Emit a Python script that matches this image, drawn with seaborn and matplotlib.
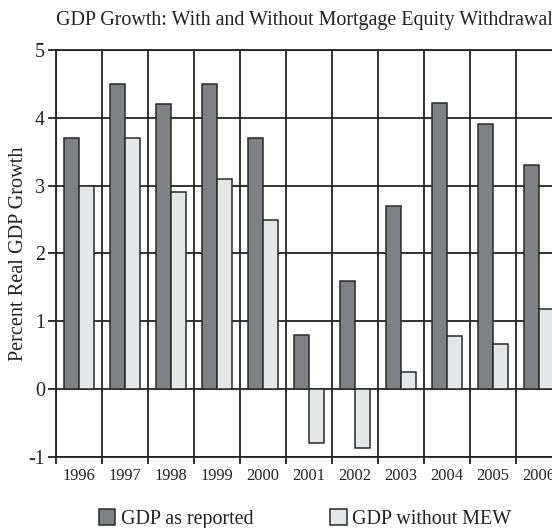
import matplotlib
matplotlib.use("Agg")
import matplotlib.pyplot as plt
import seaborn as sns
import pandas as pd
import numpy as np

years = ["1996", "1997", "1998", "1999", "2000", "2001", "2002", "2003", "2004", "2005", "2006"]
gdp_reported = [3.7, 4.5, 4.2, 4.5, 3.7, 0.8, 1.6, 2.7, 4.22, 3.91, 3.3]
gdp_without_mew = [3.0, 3.7, 2.9, 3.1, 2.5, -0.8, -0.87, 0.26, 0.78, 0.67, 1.18]
series_names = ["GDP as reported", "GDP without MEW"]
yticks = [-1, 0, 1, 2, 3, 4, 5]

sns.set_theme(style="white")
plt.rcParams["font.family"] = ["Liberation Serif", "DejaVu Serif"]
plt.rcParams["axes.unicode_minus"] = False

df = pd.DataFrame({
    "year": years * 2,
    "value": gdp_reported + gdp_without_mew,
    "series": [series_names[0]] * len(years) + [series_names[1]] * len(years),
})

W, H = 552, 528
fig = plt.figure(figsize=(W / 100, H / 100), dpi=100)
ax = fig.add_axes([56 / W, 1 - 457 / H, 506 / W, 407 / H])
ax.set_axisbelow(True)

palette = {series_names[0]: "#808185", series_names[1]: "#e5e6e8"}
sns.barplot(data=df, x="year", y="value", hue="series", palette=palette,
            width=0.635, gap=0, edgecolor="#2a2a2a", linewidth=1.1,
            saturation=1, ax=ax, legend=True)

ax.set_xlim(-0.5, len(years) - 0.5)
ax.set_ylim(-1, 5)
ax.set_yticks(yticks)
ax.set_yticklabels([str(t) for t in yticks], fontsize=14.4, color="#222222")
ax.set_xticks(np.arange(len(years)))
ax.set_xticklabels(years, fontsize=11.8, color="#222222")
ax.set_xticks(np.arange(len(years) + 1) - 0.5, minor=True)
ax.tick_params(axis="x", which="major", length=0, pad=8)
ax.tick_params(axis="x", which="minor", length=5, width=1.3, color="#222222", direction="out", bottom=True)
ax.tick_params(axis="y", which="major", length=6, width=1.3, color="#222222", direction="out", left=True, pad=2)
ax.grid(True, axis="y", which="major", color="#222222", linewidth=1.3)
ax.grid(True, axis="x", which="minor", color="#222222", linewidth=1.3)
ax.grid(False, axis="x", which="major")
for s in ["left", "bottom", "top"]:
    ax.spines[s].set_color("#222222")
    ax.spines[s].set_linewidth(1.3)
ax.spines["right"].set_visible(False)

ax.set_xlabel("")
ax.set_ylabel("Percent Real GDP Growth", fontsize=14.6, color="#222222")
ax.yaxis.set_label_coords((28 - 56) / 506, 0.5)

handles, labels = ax.get_legend_handles_labels()
ax.get_legend().remove()
fig.legend(handles, labels, loc="center", bbox_to_anchor=(305 / W, 1 - 519 / H), ncol=2,
           frameon=False, fontsize=14.4, handlelength=0.83, handleheight=0.83,
           handletextpad=0.27, columnspacing=3.83, labelcolor="#222222",
           borderpad=0, borderaxespad=0)

fig.text(304 / W, 1 - 20 / H, "GDP Growth: With and Without Mortgage Equity Withdrawal",
         ha="center", va="center", fontsize=14.4, color="#222222")

fig.savefig("out.png", dpi=100)
